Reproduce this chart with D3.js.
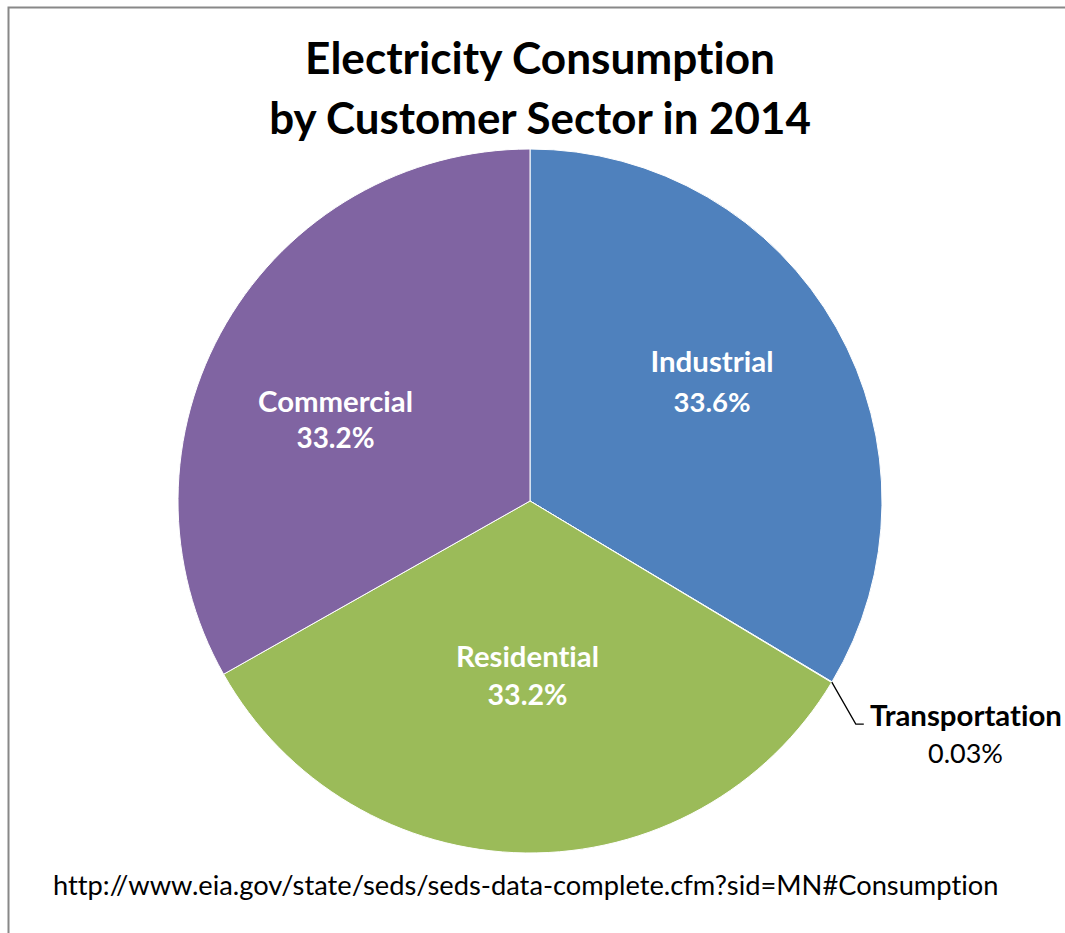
<!DOCTYPE html>
<html><head><meta charset="utf-8">
<script src="https://cdn.jsdelivr.net/npm/d3@7"></script>
<style>body{margin:0;background:#fff}svg{display:block}text{font-variant-ligatures:none;font-feature-settings:"liga" 0}</style>
</head><body>
<svg id="c" width="1065" height="933"></svg>
<script>
const categories = ["Industrial", "Transportation", "Residential", "Commercial"];
const values = [33.6, 0.03, 33.2, 33.2];
const valueLabels = ["33.6%", "0.03%", "33.2%", "33.2%"];
const colors = ["#4F81BD", "#4BACC6", "#9BBB59", "#8064A2"];
const titleLines = ["Electricity Consumption", "by Customer Sector in 2014"];
const sourceText = "http://www.eia.gov/state/seds/seds-data-complete.cfm?sid=MN#Consumption";

const svg = d3.select("#c");
const font = "Lato, 'Open Sans', sans-serif";

// frame
svg.append("path").attr("d","M8.5,933 L8.5,7.5 L1065,7.5")
  .attr("fill","none").attr("stroke","#888").attr("stroke-width",2);

function fit(sel, w){
  const cur = sel.node().getComputedTextLength();
  const fs = parseFloat(sel.attr("font-size"));
  sel.attr("font-size", fs * w / cur);
  return sel;
}

// title
const t1 = svg.append("text").attr("x",540).attr("y",74).attr("text-anchor","middle")
  .attr("font-family",font).attr("font-weight","bold").attr("font-size",40).attr("fill","#000").text(titleLines[0]);
fit(t1, 470);
const t2 = svg.append("text").attr("x",540).attr("y",134).attr("text-anchor","middle")
  .attr("font-family",font).attr("font-weight","bold").attr("font-size",40).attr("fill","#000").text(titleLines[1]);
fit(t2, 542);

const cx = 530, cy = 501, r = 352;
const pie = d3.pie().sort(null).value(d => d)(values);
const arc = d3.arc().innerRadius(0).outerRadius(r);
const g = svg.append("g").attr("transform",`translate(${cx},${cy})`);
g.selectAll("path").data(pie).join("path")
  .attr("d", arc).attr("fill",(d,i)=>colors[i])
  .attr("stroke","#fff").attr("stroke-width",1);

// labels in slices: [x, nameBaseline, pctBaseline, nameWidth, pctWidth]
const labelPos = {0:[182,-129,-89,123,77], 2:[-2.5,166,204,143,80], 3:[-194.5,-89,-53,155,78]};
[0,2,3].forEach(i=>{
  const [lx,ly1,ly2,w1,w2] = labelPos[i];
  const a = g.append("text").attr("x",lx).attr("y",ly1).attr("text-anchor","middle").attr("font-family",font)
    .attr("font-weight","bold").attr("font-size",24).attr("fill","#fff").text(categories[i]);
  fit(a, w1);
  const b = g.append("text").attr("x",lx).attr("y",ly2).attr("text-anchor","middle").attr("font-family",font)
    .attr("font-weight","bold").attr("font-size",24).attr("fill","#fff").text(valueLabels[i]);
  fit(b, w2);
});

// transportation leader
const d1 = pie[1];
const ang = (d1.startAngle + d1.endAngle)/2;
const px = Math.sin(ang)*r, py = -Math.cos(ang)*r;
g.append("path").attr("d",`M${px},${py} L${px+24},${py+42} L${px+32},${py+42}`)
  .attr("fill","none").attr("stroke","#000").attr("stroke-width",1.3);
const tn = g.append("text").attr("x",870-cx).attr("y",726-cy).attr("font-family",font).attr("font-weight","bold")
  .attr("font-size",24).attr("fill","#000").text(categories[1]);
fit(tn, 192);
const tv = g.append("text").attr("x",965.5-cx).attr("y",763-cy).attr("text-anchor","middle").attr("font-family",font)
  .attr("font-size",24).attr("fill","#000").text(valueLabels[1]);
fit(tv, 75);

// source
const s = svg.append("text").attr("x",53).attr("y",895).attr("font-family",font)
  .attr("font-size",22).attr("fill","#000").text(sourceText);
fit(s, 946);
</script>
</body></html>
